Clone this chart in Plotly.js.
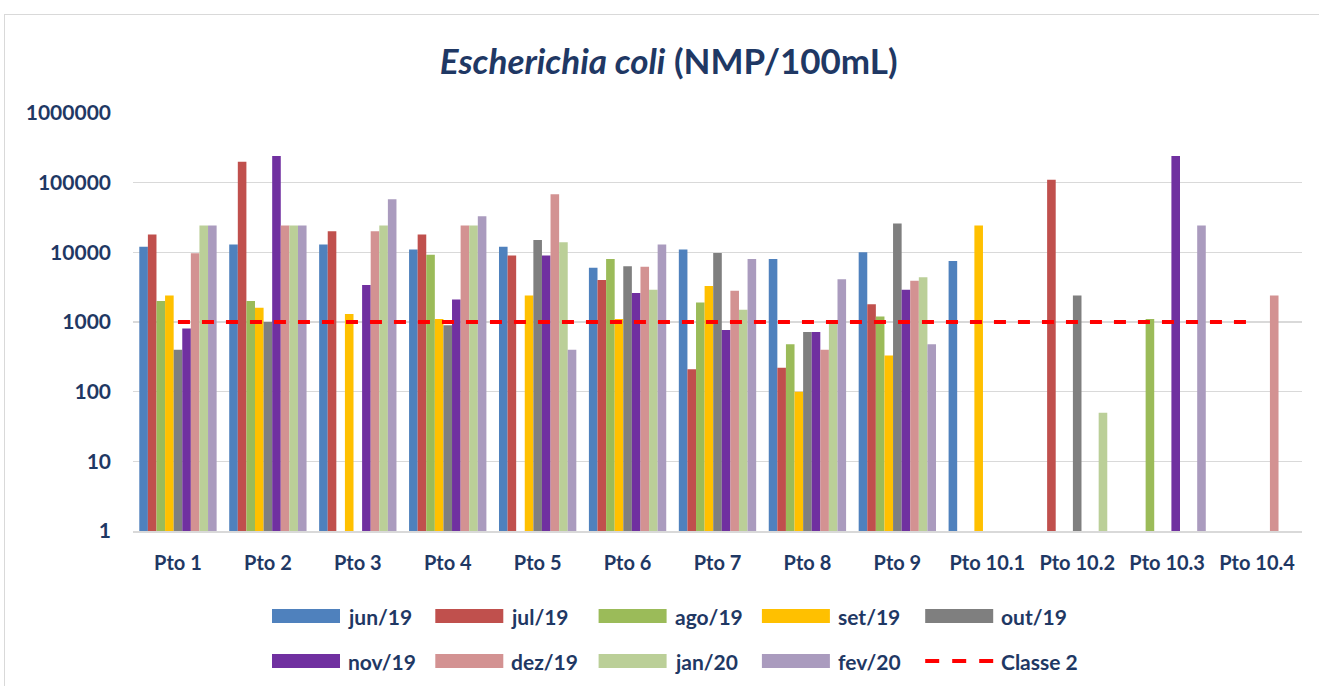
<!DOCTYPE html>
<html>
<head>
<meta charset="utf-8">
<script src="https://cdn.plot.ly/plotly-3.0.1.min.js"></script>
<style>
  html, body { margin:0; padding:0; background:#ffffff; }
  #frame { position:absolute; left:4px; top:14px; width:1330px; height:700px; border:1px solid #d9d9d9; box-sizing:border-box; }
  #chart { position:absolute; left:0; top:0; width:1319px; height:686px; }
</style>
</head>
<body>
<div id="frame"></div>
<div id="chart"></div>
<script>
// ---- data ----
const categories = ['Pto 1','Pto 2','Pto 3','Pto 4','Pto 5','Pto 6','Pto 7','Pto 8','Pto 9','Pto 10.1','Pto 10.2','Pto 10.3','Pto 10.4'];
const seriesNames = ['jun/19','jul/19','ago/19','set/19','out/19','nov/19','dez/19','jan/20','fev/20'];
const seriesColors = ['#4F81BD','#C0504D','#9BBB59','#FFC000','#7F7F7F','#7030A0','#D39292','#BBCF98','#AA9BBE'];

const jun19 = [12000, 13000, 13000, 11000, 12000, 6000, 11000, 8000, 10000, 7500, null, null, null];
const jul19 = [18000, 200000, 20000, 18000, 9000, 4000, 210, 220, 1800, null, 110000, null, null];
const ago19 = [2000, 2000, null, 9200, null, 8000, 1900, 480, 1200, null, null, 1100, null];
const set19 = [2400, 1600, 1300, 1100, 2400, 1100, 3300, 100, 330, 24196, null, null, null];
const out19 = [400, 1000, null, 900, 15000, 6300, 9800, 720, 26000, null, 2400, null, null];
const nov19 = [810, 241960, 3400, 2100, 9000, 2600, 770, 720, 2900, null, null, 241960, null];
const dez19 = [9700, 24196, 20000, 24196, 68000, 6200, 2800, 400, 3900, null, null, null, 2400];
const jan20 = [24196, 24196, 24196, 24196, 14000, 2900, 1500, 980, 4400, null, 50, null, null];
const fev20 = [24196, 24196, 58000, 33000, 400, 13000, 8000, 4100, 480, null, null, 24196, null];
const seriesValues = [jun19, jul19, ago19, set19, out19, nov19, dez19, jan20, fev20];

const classeName = 'Classe 2';
const classeLimit = categories.map(() => 1000);

const yTickVals = [1, 10, 100, 1000, 10000, 100000, 1000000];
const yTickText = ['1', '10', '100', '1000', '10000', '100000', '1000000'];

// ---- style ----
const FONT = 'Lato, "Open Sans", sans-serif';
const NAVY = '#1F3864';

const traces = seriesNames.map((name, i) => ({
  type: 'bar',
  name: name,
  x: categories,
  y: seriesValues[i],
  marker: { color: seriesColors[i], line: { width: 0 } },
  hoverinfo: 'x+y+name'
}));
traces.push({
  type: 'scatter',
  mode: 'lines',
  name: classeName,
  x: categories,
  y: classeLimit,
  line: { color: '#FF0000', width: 4, dash: 'dash' }
});

// ---- manual legend (wide swatches like the original) ----
const L = 133, R = 17, T = 113, B = 155, W = 1319, H = 686;
const pw = W - L - R, ph = H - T - B;
const px = v => (v - L) / pw;
const py = v => (H - B - v) / ph;
const legendItems = seriesNames.map((n, i) => ({ name: n, color: seriesColors[i], kind: 'bar' }));
legendItems.push({ name: classeName, color: '#FF0000', kind: 'line' });
const shapes = [];
const annotations = [];
legendItems.forEach((it, i) => {
  const col = i % 5, row = Math.floor(i / 5);
  const x0 = 272 + col * 163.3;
  const yc = 616 + row * 45;
  if (it.kind === 'bar') {
    shapes.push({ type: 'rect', xref: 'paper', yref: 'paper',
      x0: px(x0), x1: px(x0 + 68), y0: py(yc + 7), y1: py(yc - 7),
      fillcolor: it.color, line: { width: 0 } });
  } else {
    shapes.push({ type: 'line', xref: 'paper', yref: 'paper',
      x0: px(x0), x1: px(x0 + 68), y0: py(yc), y1: py(yc),
      line: { color: it.color, width: 4, dash: '14px,13px' } });
  }
  annotations.push({ xref: 'paper', yref: 'paper', x: px(x0 + 74), y: py(yc),
    xanchor: 'left', yanchor: 'middle', showarrow: false, text: it.name,
    font: { family: FONT, size: 21, color: NAVY, weight: 'bold' } });
});

const layout = {
  width: W, height: H,
  margin: { l: L, r: R, t: T, b: B, pad: 0 },
  paper_bgcolor: 'rgba(0,0,0,0)',
  plot_bgcolor: 'rgba(0,0,0,0)',
  showlegend: false,
  barmode: 'group',
  bargap: 0.14,
  bargroupgap: 0,
  title: {
    text: '<b><i>Escherichia coli</i> (NMP/100mL)</b>',
    x: 0.507, xanchor: 'center', y: 1 - 62 / H, yanchor: 'middle',
    font: { family: FONT, size: 35, color: NAVY }
  },
  xaxis: {
    type: 'category',
    showgrid: false,
    showline: true, linecolor: '#d9d9d9', linewidth: 1.5,
    ticks: '', ticklabelstandoff: 13,
    tickfont: { family: FONT, size: 20, color: NAVY, weight: 'bold' },
    fixedrange: true
  },
  yaxis: {
    type: 'log',
    range: [0, 6],
    tickvals: yTickVals, ticktext: yTickText,
    showgrid: true, gridcolor: '#d9d9d9', gridwidth: 1.5,
    zeroline: false, showline: false,
    ticks: '', ticklabelstandoff: 21,
    tickfont: { family: FONT, size: 21, color: NAVY, weight: 'bold' },
    fixedrange: true
  },
  shapes: shapes,
  annotations: annotations
};

Plotly.newPlot('chart', traces, layout, { displayModeBar: false, staticPlot: true });
</script>
</body>
</html>
